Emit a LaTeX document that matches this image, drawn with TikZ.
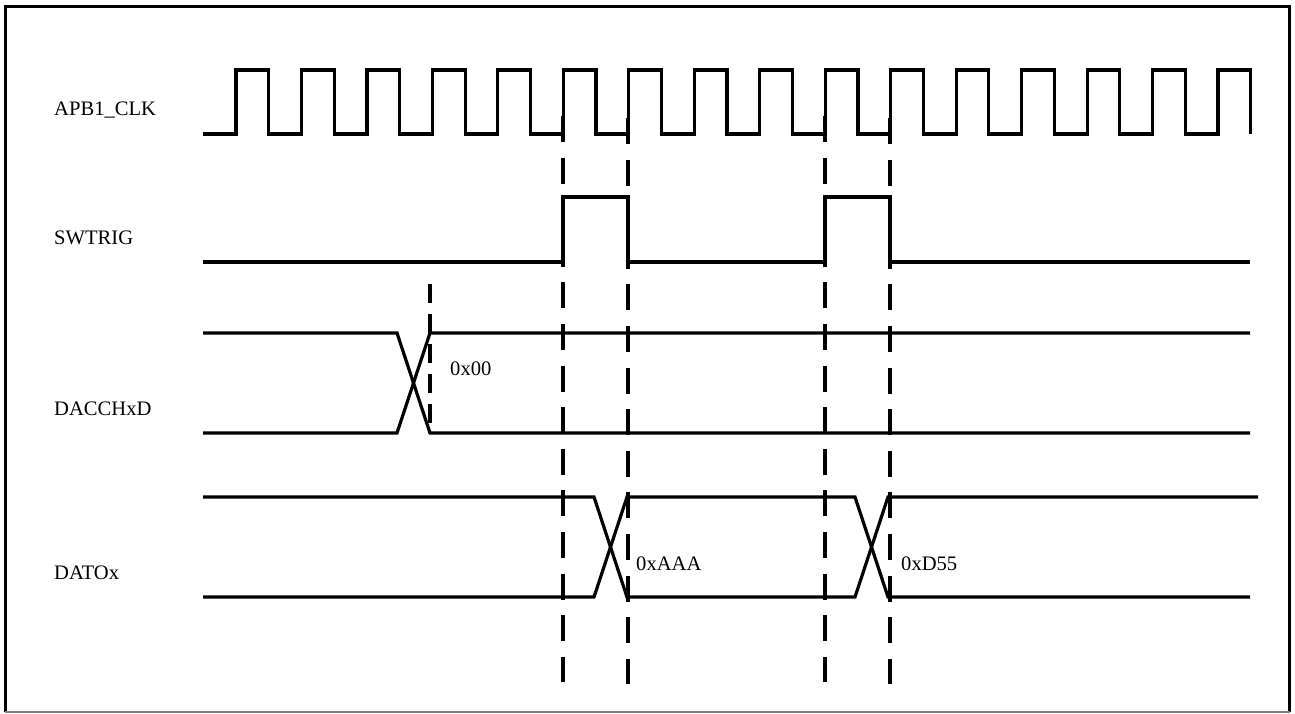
\documentclass[tikz,border=0pt]{standalone}
\usepackage{fontspec}
\setmainfont{Liberation Serif}
\begin{document}
\begin{tikzpicture}[x=1pt,y=-1pt,
  sig/.style={line width=3.2pt},
  guide/.style={line width=3.2pt, dash pattern=on 26pt off 15.6pt},
  guideshort/.style={line width=3.2pt, dash pattern=on 19pt off 11pt},
  lbl/.style={font=\fontsize{20.6}{24}\selectfont, inner sep=0pt, anchor=base west}]
\useasboundingbox (0,0) rectangle (1295,713);
% frame
\draw[line width=3pt] (5.5,712) -- (5.5,6.5) -- (1289.5,6.5) -- (1289.5,712);
\draw[gray, line width=1.5pt] (5,712) -- (1290,712);
% labels
\node[lbl] (lclk) at (54,115) {APB1\_CLK};
\node[lbl] (ltrig) at (54,244) {SWTRIG};
\node[lbl] (ldac) at (54,415) {DACCHxD};
\node[lbl] (ldat) at (54,579) {DATOx};
\node[lbl] (v00) at (450,375) {0x00};
\node[lbl] (vaaa) at (636,570) {0xAAA};
\node[lbl] (vd55) at (901,570) {0xD55};
% clock
\draw[sig] (203,134) \foreach \k in {0,...,15}{ -- ({236+65.47*\k},134) -- ({236+65.47*\k},70) -- ({268.7+65.47*\k},70) -- ({268.7+65.47*\k},134)};
% SWTRIG
\draw[sig] (203,262) -- (563,262) -- (563,197) -- (628,197) -- (628,262) -- (825,262) -- (825,197) -- (890,197) -- (890,262) -- (1250,262);
% DACCHxD
\draw[sig] (203,333) -- (397,333) -- (430,433) -- (1250,433);
\draw[sig] (203,433) -- (397,433) -- (430,333) -- (1250,333);
% DATOx
\draw[sig] (203,497) -- (594,497) -- (627,597) -- (855,597) -- (888,497) -- (1258,497);
\draw[sig] (203,597) -- (594,597) -- (627,497) -- (855,497) -- (888,597) -- (1250,597);
% guides
\draw[guideshort] (430,284) -- (430,433);
\draw[guide] (563,116) -- (563,682);
\draw[guide] (628,118) -- (628,684);
\draw[guide] (825,116) -- (825,682);
\draw[guide] (890,118) -- (890,684);
\end{tikzpicture}
\end{document}
